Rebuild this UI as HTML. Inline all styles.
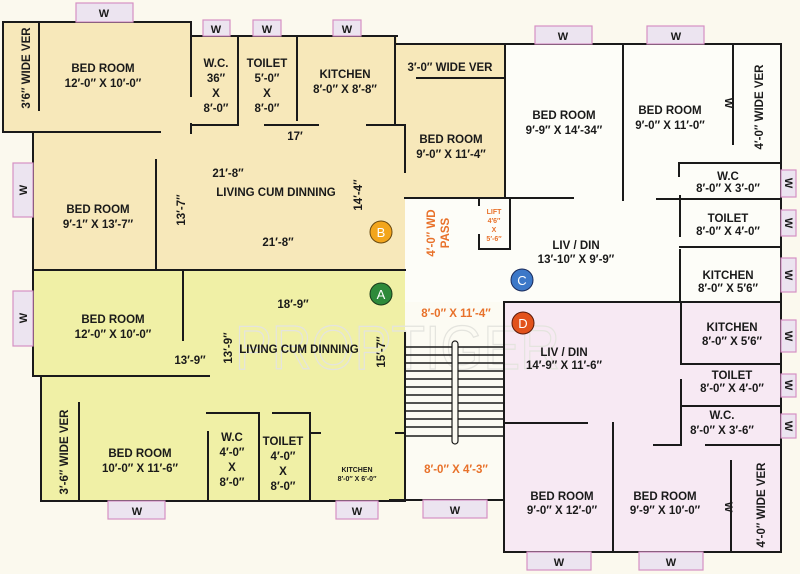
<!DOCTYPE html>
<html><head><meta charset="utf-8"><style>
html,body{margin:0;padding:0;background:#fbf9ee;}
svg{display:block;}
text{font-family:"Liberation Sans",sans-serif;font-weight:bold;fill:#1a1a1a;}
.t{font-size:11.5px;text-anchor:middle;}
.s{font-size:7px;text-anchor:middle;}
.o{fill:#e8712a;}
.w{font-size:11px;text-anchor:middle;}
</style></head><body>
<svg width="800" height="574" viewBox="0 0 800 574" xmlns="http://www.w3.org/2000/svg">
<rect width="800" height="574" fill="#fbf9ee"/>
<g stroke="none">
<polygon fill="#f7e8ba" points="3,22 191,22 191,36 397,36 397,44 505,44 505,198 405,198 405,270 33,270 33,132 3,132"/>
<polygon fill="#f0f0a6" points="33,270 405,270 405,501 41,501 41,376 33,376"/>
<rect fill="#fdfdf8" x="505" y="44" width="276" height="258"/>
<rect fill="#fdfdf8" x="405" y="198" width="100" height="104"/>
<rect fill="#fcfbf3" x="405" y="302" width="99" height="198"/>
<rect fill="#f7e9f3" x="504" y="302" width="277" height="250"/>
</g>
<text x="235" y="369" font-size="62" textLength="325" lengthAdjust="spacingAndGlyphs" style="fill:none;stroke:#e4e4de;stroke-width:1.3;font-weight:normal;">PROPTIGER</text>
<g stroke="#1a1a1a" stroke-width="2" fill="none" stroke-linecap="square">
<path d="M3,22 H191 V96 M191,124 V133 M3,22 V132 H160 M39,22 V110"/>
<path d="M191,36 H397 M238,36 V125 H191 M297,36 V120 M265,125 H318 M367,125 H397 M395,36 V125 H405 V172"/>
<path d="M33,132 V376 M156,160 V270 M33,270 H405"/>
<path d="M395,44 H781 M417,78 H505 M505,44 V198 M405,198 H573"/>
<path d="M623,44 V200 M733,44 V144 M781,44 V552"/>
<path d="M679,176 V163 H781 M657,199 H781 M680,196 V236 M680,247 H781"/>
<path d="M680,250 V300"/>
<path d="M479,199 V205 M479,235 V249 H510 V199"/>
<path d="M504,302 H781 M504,302 V552 H781"/>
<path d="M681,302 V364 H781 M681,380 V445 H654 M681,406 H781 M706,445 H781 M613,423 V552 M504,423 H587 M731,461 V552"/>
<path d="M183,270 V340 M33,376 H209 M41,376 V501 H405 M79,403 V501"/>
<path d="M207,413 H259 V501 M208,432 V501 M273,413 H310 V501 M310,433 H320 M396,433 H405 M405,333 V501"/>
<path d="M390,500 H504"/>
</g>
<g stroke="#1a1a1a" stroke-width="1.5">
<line x1="405" y1="347" x2="504" y2="347"/><line x1="405" y1="355" x2="504" y2="355"/>
<line x1="405" y1="363" x2="504" y2="363"/><line x1="405" y1="371" x2="504" y2="371"/>
<line x1="405" y1="379" x2="504" y2="379"/><line x1="405" y1="387" x2="504" y2="387"/>
<line x1="405" y1="395" x2="504" y2="395"/><line x1="405" y1="403" x2="504" y2="403"/>
<line x1="405" y1="411" x2="504" y2="411"/><line x1="405" y1="419" x2="504" y2="419"/>
<line x1="405" y1="427" x2="504" y2="427"/><line x1="405" y1="436" x2="504" y2="436"/>
<line x1="504" y1="347" x2="504" y2="436"/>
</g>
<rect x="452" y="341" width="6" height="103" rx="3" fill="#fcfbf3" stroke="#1a1a1a" stroke-width="1.2"/>
<g fill="#ece4f0" stroke="#d690c4" stroke-width="1.2">
<rect x="76" y="3" width="57" height="19"/><rect x="203" y="20" width="27" height="16"/>
<rect x="253" y="20" width="28" height="16"/><rect x="333" y="20" width="28" height="16"/>
<rect x="535" y="26" width="57" height="18"/><rect x="647" y="26" width="57" height="18"/>
<rect x="13" y="163" width="20" height="54"/><rect x="13" y="291" width="20" height="55"/>
<rect x="781" y="170" width="15" height="27"/><rect x="781" y="210" width="15" height="26"/>
<rect x="781" y="258" width="15" height="34"/><rect x="781" y="320" width="15" height="32"/>
<rect x="781" y="374" width="15" height="23"/><rect x="781" y="414" width="15" height="24"/>
<rect x="108" y="501" width="57" height="18"/><rect x="336" y="501" width="42" height="18"/>
<rect x="423" y="500" width="64" height="18"/><rect x="527" y="552" width="64" height="18"/>
<rect x="639" y="552" width="64" height="18"/>
</g>
<g class="w">
<text class="w" x="104" y="17">W</text><text class="w" x="216" y="33">W</text>
<text class="w" x="267" y="33">W</text><text class="w" x="347" y="33">W</text>
<text class="w" x="563" y="40">W</text><text class="w" x="676" y="40">W</text>
<text class="w" x="137" y="515">W</text><text class="w" x="357" y="515">W</text>
<text class="w" x="455" y="514">W</text><text class="w" x="559" y="566">W</text>
<text class="w" x="671" y="566">W</text>
<text class="w" transform="translate(27,190) rotate(-90)">W</text>
<text class="w" transform="translate(27,318) rotate(-90)">W</text>
<text class="w" transform="translate(785,183) rotate(90)">W</text>
<text class="w" transform="translate(785,223) rotate(90)">W</text>
<text class="w" transform="translate(785,275) rotate(90)">W</text>
<text class="w" transform="translate(785,336) rotate(90)">W</text>
<text class="w" transform="translate(785,385) rotate(90)">W</text>
<text class="w" transform="translate(785,426) rotate(90)">W</text>
<text class="w" transform="translate(725,103) rotate(90)">W</text>
<text class="w" transform="translate(725,507) rotate(90)">W</text>
</g>
<text class="t" x="103" y="72">BED ROOM</text><text class="t" x="103" y="87">12′-0″ X 10′-0″</text>
<text class="t" transform="translate(30,68) rotate(-90)">3′6″ WIDE VER</text>
<text class="t" x="216" y="67">W.C.</text><text class="t" x="216" y="82">36″</text><text class="t" x="216" y="97">X</text><text class="t" x="216" y="112">8′-0″</text>
<text class="t" x="267" y="67">TOILET</text><text class="t" x="267" y="82">5′-0″</text><text class="t" x="267" y="97">X</text><text class="t" x="267" y="112">8′-0″</text>
<text class="t" x="345" y="78">KITCHEN</text><text class="t" x="345" y="93">8′-0″ X 8′-8″</text>
<text class="t" x="295" y="140">17′</text>
<text class="t" x="450" y="71">3′-0″ WIDE VER</text>
<text class="t" x="451" y="143">BED ROOM</text><text class="t" x="451" y="158">9′-0″ X 11′-4″</text>
<text class="t" x="98" y="213">BED ROOM</text><text class="t" x="98" y="228">9′-1″ X 13′-7″</text>
<text class="t" x="228" y="177">21′-8″</text>
<text class="t" x="276" y="196">LIVING CUM DINNING</text>
<text class="t" x="278" y="246">21′-8″</text>
<text class="t" transform="translate(185,210) rotate(-90)">13′-7″</text>
<text class="t" transform="translate(362,195) rotate(-90)">14′-4″</text>
<text class="t" x="564" y="119">BED ROOM</text><text class="t" x="564" y="134">9′-9″ X 14′-34″</text>
<text class="t" x="670" y="114">BED ROOM</text><text class="t" x="670" y="129">9′-0″ X 11′-0″</text>
<text class="t" transform="translate(763,107) rotate(-90)">4′-0″ WIDE VER</text>
<text class="t" x="728" y="180">W.C</text><text class="t" x="728" y="192">8′-0″ X 3′-0″</text>
<text class="t" x="728" y="222">TOILET</text><text class="t" x="728" y="235">8′-0″ X 4′-0″</text>
<text class="t" x="728" y="279">KITCHEN</text><text class="t" x="728" y="292">8′-0″ X 5′6″</text>
<text class="t" x="576" y="249">LIV / DIN</text><text class="t" x="576" y="263">13′-10″ X 9′-9″</text>
<text class="s o" x="494" y="214">LIFT</text><text class="s o" x="494" y="223">4′6″</text><text class="s o" x="494" y="232">X</text><text class="s o" x="494" y="241">5′-6″</text>
<text class="t o" transform="translate(435,233) rotate(-90)">4′-0″ WD</text>
<text class="t o" transform="translate(449,233) rotate(-90)">PASS</text>
<text class="t o" x="456" y="317">8′-0″ X 11′-4″</text>
<text class="t o" x="456" y="473">8′-0″ X 4′-3″</text>
<text class="t" x="113" y="323">BED ROOM</text><text class="t" x="113" y="338">12′-0″ X 10′-0″</text>
<text class="t" x="293" y="308">18′-9″</text>
<text class="t" x="299" y="353">LIVING CUM DINNING</text>
<text class="t" x="190" y="364">13′-9″</text>
<text class="t" transform="translate(232,348) rotate(-90)">13′-9″</text>
<text class="t" transform="translate(385,352) rotate(-90)">15′-7″</text>
<text class="t" x="140" y="457">BED ROOM</text><text class="t" x="140" y="472">10′-0″ X 11′-6″</text>
<text class="t" transform="translate(68,452) rotate(-90)">3′-6″ WIDE VER</text>
<text class="t" x="232" y="441">W.C</text><text class="t" x="232" y="456">4′-0″</text><text class="t" x="232" y="471">X</text><text class="t" x="232" y="486">8′-0″</text>
<text class="t" x="283" y="445">TOILET</text><text class="t" x="283" y="460">4′-0″</text><text class="t" x="283" y="475">X</text><text class="t" x="283" y="490">8′-0″</text>
<text class="s" x="357" y="472">KITCHEN</text><text class="s" x="357" y="481">8′-0″ X 6′-0″</text>
<text class="t" x="564" y="356">LIV / DIN</text><text class="t" x="564" y="369">14′-9″ X 11′-6″</text>
<text class="t" x="732" y="331">KITCHEN</text><text class="t" x="732" y="345">8′-0″ X 5′6″</text>
<text class="t" x="732" y="379">TOILET</text><text class="t" x="732" y="392">8′-0″ X 4′-0″</text>
<text class="t" x="722" y="419">W.C.</text><text class="t" x="722" y="434">8′-0″ X 3′-6″</text>
<text class="t" x="562" y="500">BED ROOM</text><text class="t" x="562" y="514">9′-0″ X 12′-0″</text>
<text class="t" x="665" y="500">BED ROOM</text><text class="t" x="665" y="514">9′-9″ X 10′-0″</text>
<text class="t" transform="translate(765,505) rotate(-90)">4′-0″ WIDE VER</text>
<circle cx="381" cy="232" r="11" fill="#f2a51c" stroke="#6a4a10" stroke-width="1"/>
<text x="381" y="237" font-size="13" text-anchor="middle" style="fill:#fff;font-weight:normal">B</text>
<circle cx="381" cy="294" r="11" fill="#2e8a3a" stroke="#1a3a1a" stroke-width="1"/>
<text x="381" y="299" font-size="13" text-anchor="middle" style="fill:#fff;font-weight:normal">A</text>
<circle cx="522" cy="280" r="11" fill="#3c78c8" stroke="#1a2a5a" stroke-width="1"/>
<text x="522" y="285" font-size="13" text-anchor="middle" style="fill:#fff;font-weight:normal">C</text>
<circle cx="523" cy="323" r="11" fill="#e2521c" stroke="#5a1a0a" stroke-width="1"/>
<text x="523" y="328" font-size="13" text-anchor="middle" style="fill:#fff;font-weight:normal">D</text>
</svg>
</body></html>
